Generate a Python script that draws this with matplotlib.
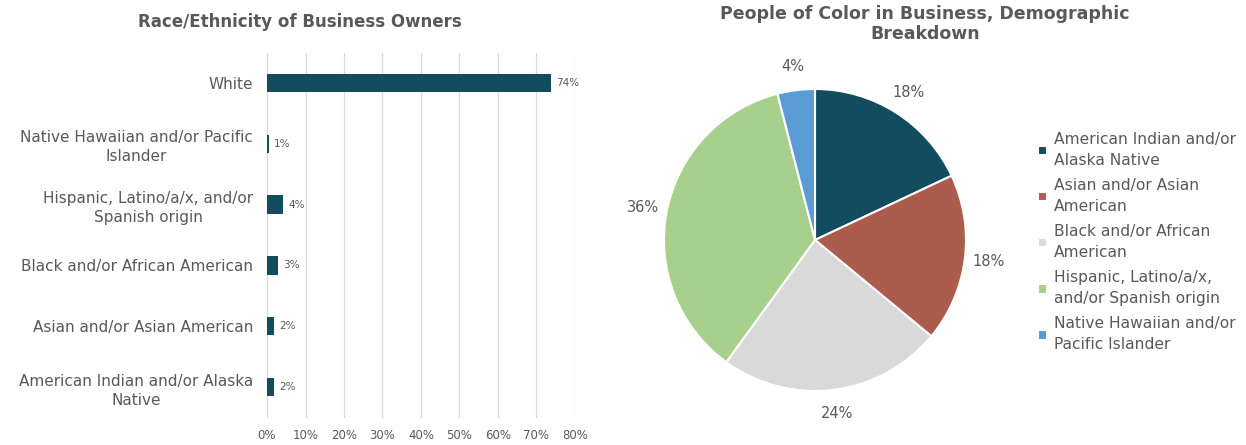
import matplotlib
matplotlib.use('Agg')
import matplotlib.pyplot as plt
from matplotlib.ticker import PercentFormatter

plt.rcParams['font.family'] = ['DejaVu Sans']

# bar chart data (top to bottom as shown)
bar_labels = ['White', 'Native Hawaiian and/or Pacific\nIslander',
              'Hispanic, Latino/a/x, and/or\nSpanish origin',
              'Black and/or African American', 'Asian and/or Asian American',
              'American Indian and/or Alaska\nNative']
bar_values = [73.8, 0.5, 4.2, 2.9, 1.9, 1.9]
bar_text = ['74%', '1%', '4%', '3%', '2%', '2%']

# pie data (clockwise from 12 o'clock)
pie_labels = ['American Indian and/or\nAlaska Native', 'Asian and/or Asian\nAmerican',
              'Black and/or African\nAmerican', 'Hispanic, Latino/a/x,\nand/or Spanish origin',
              'Native Hawaiian and/or\nPacific Islander']
pie_values = [18, 18, 24, 36, 4]
pie_colors = ['#134B5F', '#AB5C4C', '#D9D9DA', '#A8D08D', '#5B9BD5']

txt = '#595959'
W, H = 1246, 445
fig = plt.figure(figsize=(W / 100, H / 100), dpi=100)

# ---- left: horizontal bars ----
ax = fig.add_axes([267 / W, (H - 417.5) / H, 308 / W, 365 / H])
ypos = list(range(len(bar_values)))[::-1]
ax.barh(ypos, bar_values, height=0.3, color='#134B5F', zorder=3)
for y, v, t in zip(ypos, bar_values, bar_text):
    ax.text(v + 1.3, y, t, va='center', ha='left', fontsize=7.5, color=txt)
ax.set_yticks(ypos)
ax.set_yticklabels(bar_labels, fontsize=11, color=txt, multialignment='center',
                   linespacing=1.35)
ax.set_ylim(-0.5, 5.5)
ax.set_xlim(0, 80)
ax.set_xticks(range(0, 81, 10))
ax.xaxis.set_major_formatter(PercentFormatter(decimals=0))
ax.tick_params(axis='x', labelsize=8.5, colors=txt, length=0, pad=8)
ax.tick_params(axis='y', length=0, pad=10)
ax.grid(axis='x', color='#D9D9D9', lw=0.9, zorder=0)
for s in ax.spines.values():
    s.set_visible(False)
fig.text(300 / W, 1 - 22 / H, 'Race/Ethnicity of Business Owners', ha='center',
         va='center', fontsize=12, fontweight='bold', color=txt)

# ---- right: pie ----
ax2 = fig.add_axes([(815 - 151) / W, (H - 240 - 151) / H, 302 / W, 302 / H])
wedges, _, autotexts = ax2.pie(pie_values, colors=pie_colors, startangle=90,
                               counterclock=False, autopct='%1.0f%%',
                               pctdistance=1.16, radius=1,
                               wedgeprops=dict(edgecolor='white', linewidth=1.5),
                               textprops=dict(fontsize=10.5, color=txt))
ax2.set_xlim(-1, 1)
ax2.set_ylim(-1, 1)
fig.text(925 / W, 1 - 24 / H, 'People of Color in Business, Demographic\nBreakdown',
         ha='center', va='center', fontsize=12.5, fontweight='bold', color=txt,
         linespacing=1.15)
leg = fig.legend(wedges, pie_labels, loc='upper left',
                 bbox_to_anchor=(1024 / W, 1 - 118 / H), frameon=False,
                 fontsize=11.2, labelcolor=txt, handlelength=0.55,
                 handleheight=0.55, handletextpad=0.45, labelspacing=0.65)
for t in leg.get_texts():
    t.set_linespacing(1.5)

plt.savefig('out.png', dpi=100)
